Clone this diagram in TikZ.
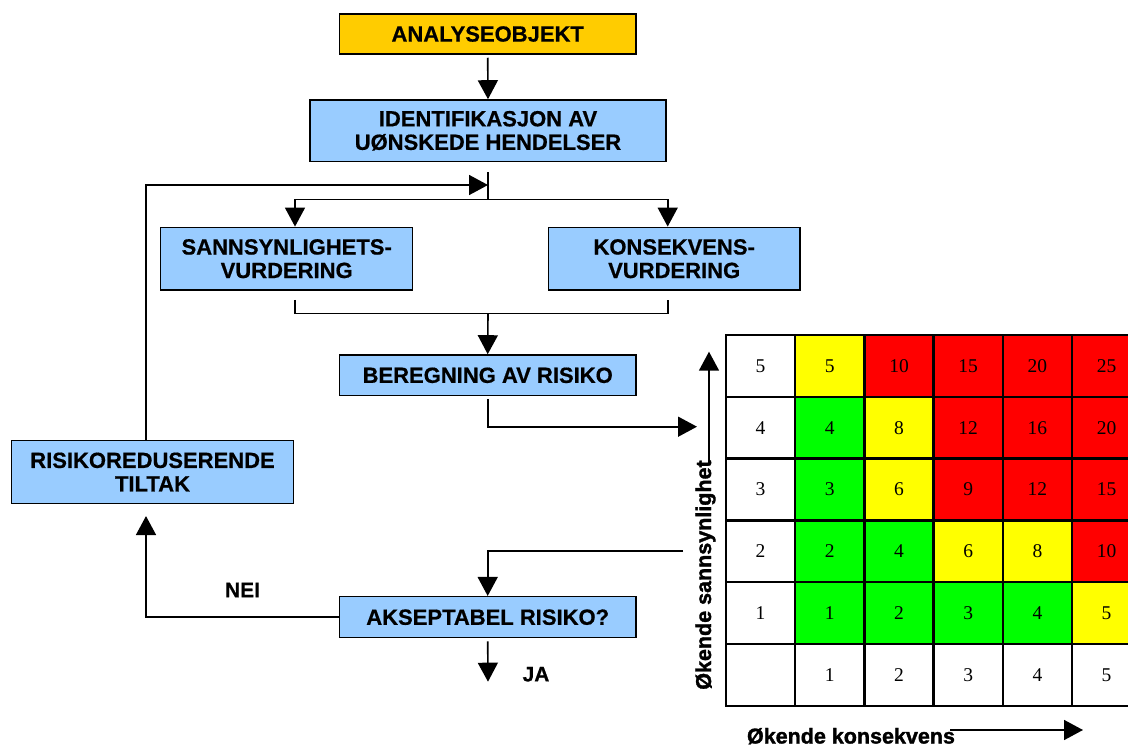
\documentclass[tikz,border=0pt]{standalone}
\usepackage{fontspec}
\setmainfont{Liberation Serif}
\setsansfont{Liberation Sans}
\newfontfamily\boxsans[BoldFeatures={FakeBold=0.6}]{Liberation Sans}
\newfontfamily\heavysans[BoldFeatures={FakeBold=1.6}]{Liberation Sans}
\usetikzlibrary{arrows.meta}

\definecolor{boxblue}{RGB}{153,204,255}
\definecolor{boxorange}{RGB}{255,204,0}
\definecolor{lowgreen}{RGB}{0,255,0}
\definecolor{midyellow}{RGB}{255,255,0}
\definecolor{highred}{RGB}{255,0,0}

\tikzset{
  flowbox/.style={draw, line width=1.5pt, fill=boxblue, inner sep=0pt, align=center,
    font=\boxsans\bfseries\fontsize{22}{23.5}\selectfont},
  cellbox/.style={draw, line width=2.5pt, minimum width=69.2pt, minimum height=61.8pt,
    inner sep=0pt, font=\fontsize{19.5}{20}\selectfont},
  axislabel/.style={font=\heavysans\bfseries\fontsize{21.5}{22}\selectfont},
  answer/.style={font=\boxsans\bfseries\fontsize{21}{22}\selectfont}
}

\begin{document}
\begin{tikzpicture}[x=1pt, y=-1pt, line width=1.6pt, >={Triangle[length=19pt,width=20pt]}]

  \clip (0,0) rectangle (1128,747);

  \newcommand\cellW{69.2}
  \newcommand\cellH{61.8}

  \node[flowbox, fill=boxorange, minimum width=296.7pt, minimum height=40pt] (ana) at (487.7,34) {ANALYSEOBJEKT};
  \node[flowbox, minimum width=356pt, minimum height=61.7pt] (ident) at (488,130.8) {IDENTIFIKASJON AV\\U\O NSKEDE HENDELSER};
  \node[flowbox, minimum width=252pt, minimum height=62.7pt] (sann) at (286.7,258.7) {SANNSYNLIGHETS-\\VURDERING};
  \node[flowbox, minimum width=251.7pt, minimum height=62.7pt] (kons) at (674.2,258.7) {KONSEKVENS-\\VURDERING};
  \node[flowbox, minimum width=296.7pt, minimum height=40.7pt] (ber) at (487.7,375.3) {BEREGNING AV RISIKO};
  \node[flowbox, minimum width=296.7pt, minimum height=41pt] (aks) at (487.7,617.2) {AKSEPTABEL RISIKO?};
  \node[flowbox, minimum width=281.6pt, minimum height=62.6pt] (tiltak) at (152.5,472) {RISIKOREDUSERENDE\\TILTAK};

  \coordinate (loopin) at (488,185);
  \coordinate (fork) at (488,199.3);
  \coordinate (merge) at (488,313.3);
  \coordinate (riskin) at (697,426.7);
  \coordinate (riskout) at (683,551);
  \coordinate (ja) at (488,681.7);

  \draw[->] ([yshift=-3pt]ana.south) -- (ident.north);
  \draw ([yshift=-10pt]ident.south) -- (fork);
  \draw[->] (fork) -| ([xshift=8.3pt]sann.north);
  \draw[->] (fork) -| ([xshift=-6.5pt]kons.north);
  \draw ([xshift=8.3pt,yshift=-9pt]sann.south) |- (merge) -| ([xshift=-6.5pt,yshift=-9pt]kons.south);
  \draw[->] (merge) -- (ber.north);
  \draw[->] ([yshift=-3pt]ber.south) |- (riskin);
  \draw[->] (riskout) -| (aks.north);
  \draw[->] ([yshift=-3pt]aks.south) -- (ja);
  \draw[->] (aks.west) -| ([xshift=-6.5pt,yshift=-12pt]tiltak.south);
  \draw[->] ([xshift=-6.5pt]tiltak.north) |- (loopin);

  \node[answer] (nei) at (242.5,590) {NEI};
  \node[answer] (jatext) at (536,674.3) {JA};

  \foreach \p in {1,...,5}{
    \node[cellbox] (p\p) at ({726+0.5*\cellW}, {335+(5.5-\p)*\cellH}) {\p};
    \node[cellbox] (k\p) at ({726+(\p+0.5)*\cellW}, {335+5.5*\cellH}) {\p};
    \foreach \k in {1,...,5}{
      \pgfmathtruncatemacro\rv{\p*\k}
      \ifnum\rv<5 \def\cc{lowgreen}\else\ifnum\rv<9 \def\cc{midyellow}\else\def\cc{highred}\fi\fi
      \node[cellbox, fill=\cc] (c\p\k) at ({726+(\k+0.5)*\cellW}, {335+(5.5-\p)*\cellH}) {\rv};
    }
  }
  \node[cellbox] (corner) at ({726+0.5*\cellW}, {335+5.5*\cellH}) {};

  \coordinate (ybase) at (709,463);
  \coordinate (ytip) at (709,351.7);
  \coordinate (xbase) at (950,730);
  \coordinate (xtip) at (1083,730);

  \draw[->] (ybase) -- (ytip);
  \draw[->] (xbase) -- (xtip);
  \node[axislabel, rotate=90, anchor=base] (ylabel) at (711,575) {\O kende sannsynlighet};
  \node[axislabel, anchor=base] (xlabel) at (851,743.5) {\O kende konsekvens};

\end{tikzpicture}
\end{document}
